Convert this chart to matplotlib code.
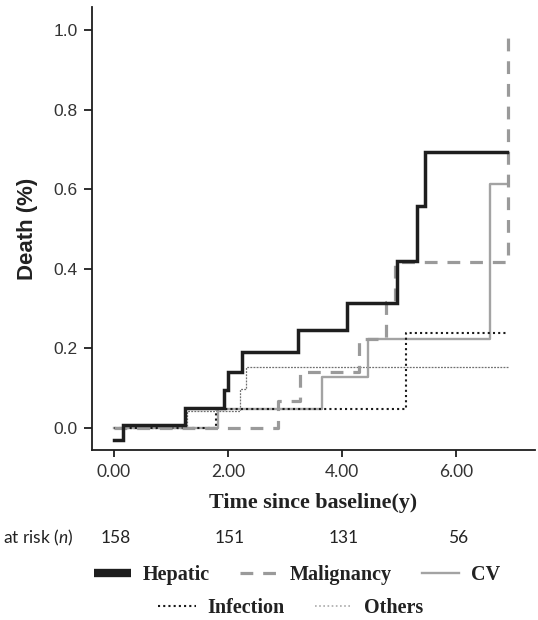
import matplotlib
matplotlib.use("Agg")
import matplotlib.pyplot as plt
from matplotlib.lines import Line2D
import matplotlib.transforms as mtransforms

plt.rcParams["mathtext.fontset"] = "custom"
plt.rcParams["mathtext.rm"] = "Lato"
plt.rcParams["mathtext.it"] = "Lato:italic"

# ---- data ----
hepatic_t = [0.0, 0.16, 1.25, 1.93, 2.00, 2.25, 3.23, 4.09, 4.97, 5.31, 5.45, 6.89]
hepatic_v = [-0.031, 0.008, 0.049, 0.095, 0.141, 0.190, 0.246, 0.313, 0.420, 0.557, 0.694, 0.694]

malig_t = [0.0, 2.87, 3.26, 4.30, 4.77, 4.93, 6.90]
malig_v = [0.0, 0.068, 0.139, 0.223, 0.317, 0.417, 0.980]

cv_t = [0.0, 1.83, 3.65, 4.45, 6.60, 6.89]
cv_v = [0.0, 0.048, 0.128, 0.223, 0.614, 0.614]

infection_t = [0.0, 1.80, 5.12, 6.87]
infection_v = [0.0, 0.047, 0.237, 0.237]

others_t = [0.0, 1.28, 2.21, 2.31, 6.91]
others_v = [0.0, 0.043, 0.097, 0.153, 0.153]

x_ticks = [0, 2, 4, 6]
y_ticks = [0.0, 0.2, 0.4, 0.6, 0.8, 1.0]
at_risk_times = [0, 2, 4, 6]
at_risk_n = [158, 151, 131, 56]
labels = ["Hepatic", "Malignancy", "CV", "Infection", "Others"]

W, H = 538, 620
fig = plt.figure(figsize=(W / 100, H / 100), dpi=100)
ax = fig.add_axes([91.7 / W, 1 - 450 / H, (535 - 91.7) / W, (450 - 7.3) / H])

grey_dash = "#9a9a9a"
grey_cv = "#a3a3a3"
grey_oth = "#707070"

ax.plot(others_t, others_v, drawstyle="steps-post", color=grey_oth, lw=0.9,
        linestyle=(0, (1.5, 1.0)), zorder=2)
ax.plot(cv_t, cv_v, drawstyle="steps-post", color=grey_cv, lw=1.7, zorder=3)
ax.plot(infection_t, infection_v, drawstyle="steps-post", color="#1a1a1a", lw=1.5,
        linestyle=(0, (1.0, 1.5)), zorder=4)
ax.plot(malig_t, malig_v, drawstyle="steps-post", color=grey_dash, lw=2.3,
        linestyle=(0, (4.0, 3.1)), zorder=5)
ax.plot(hepatic_t, hepatic_v, drawstyle="steps-post", color="#1e1e1e", lw=2.5,
        zorder=6, solid_joinstyle="miter")

ax.set_xlim(-0.385, 7.38)
ax.set_ylim(-0.056, 1.057)
ax.spines["top"].set_visible(False)
ax.spines["right"].set_visible(False)
for s in ("left", "bottom"):
    ax.spines[s].set_linewidth(1.3)
    ax.spines[s].set_color("#1e1e1e")

ax.set_yticks(y_ticks)
ax.set_yticklabels([f"{v:.1f}" for v in y_ticks], fontfamily="Liberation Sans",
                   fontsize=12.5, color="#333333")
ax.set_xticks(x_ticks)
ax.set_xticklabels([f"{v:.2f}" for v in x_ticks], fontfamily="Lato",
                   fontsize=12.5, color="#333333")
ax.tick_params(axis="y", length=6, width=1.3, pad=4, color="#1e1e1e")
ax.tick_params(axis="x", length=5.3, width=1.3, pad=5, color="#1e1e1e")

ax.set_ylabel("Death (%)", fontfamily="Liberation Sans", fontweight="bold",
              fontsize=16, color="#222222", va="center")
ax.yaxis.set_label_coords((27 - 91.7) / (535 - 91.7), 0.5)

fig.text(313.3 / W, 1 - 508.3 / H, "Time since baseline(y)", ha="center",
         va="baseline", fontfamily="Liberation Serif", fontweight="bold",
         fontsize=15.8, color="#222222")

# numbers at risk
fig.text(3 / W, 1 - 543.3 / H, r"at risk ($\mathit{n}$)", ha="left", va="baseline",
         fontfamily="Lato", fontsize=12.5, color="#222222")
trans = mtransforms.blended_transform_factory(ax.transData, fig.transFigure)
for t, n in zip(at_risk_times, at_risk_n):
    ax.text(t + 0.03, 1 - 543.3 / H, str(n), transform=trans, ha="center",
            va="baseline", fontfamily="Lato", fontsize=12.5, color="#222222")

# legend
h_hep = Line2D([], [], color="#1e1e1e", lw=6, solid_capstyle="butt")
h_mal = Line2D([], [], color=grey_dash, lw=2.3, linestyle=(0, (4.0, 3.1)))
h_cv = Line2D([], [], color=grey_cv, lw=1.7)
h_inf = Line2D([], [], color="#1a1a1a", lw=1.5, linestyle=(0, (1.0, 1.5)))
h_oth = Line2D([], [], color="#aaaaaa", lw=1.2, linestyle=(0, (1.0, 1.5)))

lp = dict(prop={"family": "Liberation Serif", "weight": "bold", "size": 14.5},
          frameon=False, handlelength=1.85, handletextpad=0.6, borderpad=0,
          borderaxespad=0, labelcolor="#222222")
leg1 = fig.legend([h_hep, h_mal, h_cv], labels[:3], loc="center",
                  bbox_to_anchor=(297 / W, 1 - 575 / H), ncol=3,
                  columnspacing=1.5, **lp)
leg2 = fig.legend([h_inf, h_oth], labels[3:], loc="center",
                  bbox_to_anchor=(291 / W, 1 - 608 / H), ncol=2,
                  columnspacing=1.5, **lp)

fig.savefig("out.png", dpi=100)
